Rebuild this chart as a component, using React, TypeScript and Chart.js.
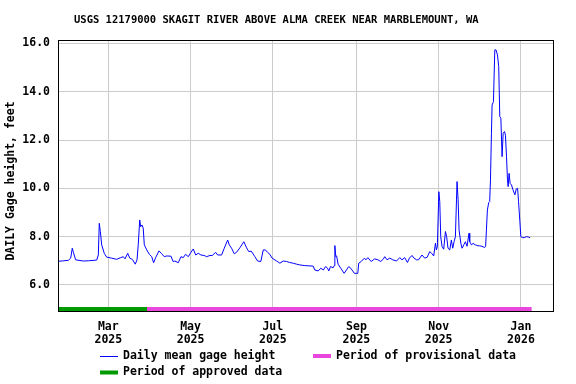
import React, { useEffect, useRef } from "react";
import { Chart, registerables } from "chart.js";

Chart.register(...registerables);

// Day numbers counted from Jan 1, 2025 (day 0)
const days = [
  22.0, 26, 29.4, 31.1, 32.3, 33.1, 34.8, 40.5, 44.2, 50.4, 51.6, 52.3, 53.1, 54.1, 56.0, 57.8,
  61.5, 65.2, 68.2, 70.1, 71.4, 73.4, 74.9, 76.8, 79.0, 80.3, 81.2, 82.3, 83.0, 84.0, 84.9, 85.7,
  87.5, 89.4, 91.2, 92.6, 94.1, 96.6, 98.6, 100.5, 102.3, 105.5, 107, 108.4, 110.9, 112.9, 114.6,
  116.3, 118.3, 120.3, 122.0, 123.8, 125.7, 127.7, 130.1, 131.9, 134.4, 136.1, 138.6, 140.1, 143.0,
  145.0, 147.5, 148.7, 150.4, 152.4, 154.1, 156.6, 159.5, 161.5, 163.2, 165, 167.7, 169.7, 172.1,
  173.9, 175.5, 177.1, 178.8, 180.5, 183.8, 186.2, 188.7, 191.2, 193.5, 196.1, 198.6, 201, 204.7,
  210.9, 212.1, 214.6, 216.6, 218.5, 220.1, 221.5, 222.5, 223.8, 225.7, 226.5, 227, 227.7, 228.3,
  229.4, 231.4, 233.9, 235.6, 237.3, 238.8, 241.5, 244, 244.7, 246.5, 248.9, 250, 251.5, 253.9,
  256.5, 258.9, 261, 262.8, 264, 265.7, 267.7, 270, 272.7, 275.1, 276.8, 278.8, 280.8, 282.3, 284.2,
  285.7, 287.5, 289, 291.6, 293.6, 295.5, 297.3, 298.8, 300.3, 301.6, 302.3, 303, 304.1, 304.8,
  305.5, 306.5, 307.7, 309, 309.9, 310.9, 312.2, 313.4, 314.4, 315.4, 316.4, 317.2, 317.6, 318.4,
  319.1, 320.4, 321.3, 322.6, 323.8, 325.0, 326.5, 327.0, 328.3, 329.5, 331.2, 333.1, 334.4, 336,
  338.1, 338.8, 339.4, 340.1, 341.1, 341.8, 342.4, 343.1, 343.6, 344.6, 345.6, 346.5, 347.6, 348.5,
  349.3, 350.1, 351.0, 351.8, 352.8, 353.5, 354.3, 355.0, 355.5, 356.2, 357, 358.0, 359, 360.5,
  361.5, 362.5, 363.2, 364.2, 364.9, 366.0, 367.5, 369.2, 370.5, 371.8,
];

const gage = [
  6.98, 7.0, 7.02, 7.11, 7.52, 7.35, 7.04, 6.99, 7.0, 7.03, 7.24, 8.55, 8.21, 7.66, 7.31, 7.15,
  7.11, 7.06, 7.13, 7.17, 7.08, 7.31, 7.11, 7.06, 6.86, 7.04, 7.66, 8.69, 8.41, 8.48, 8.35, 7.66,
  7.45, 7.27, 7.17, 6.92, 7.13, 7.41, 7.29, 7.17, 7.2, 7.19, 6.97, 6.99, 6.92, 7.17, 7.13,
  7.27, 7.17, 7.35, 7.49, 7.24, 7.31, 7.24, 7.22, 7.17, 7.22, 7.22, 7.35, 7.24, 7.24,
  7.52, 7.86, 7.66, 7.52, 7.29, 7.35, 7.54, 7.79, 7.54, 7.38, 7.4, 7.17, 6.99, 6.97,
  7.45, 7.45, 7.35, 7.27, 7.11, 6.99, 6.9, 6.99, 6.97, 6.93, 6.9, 6.86, 6.83, 6.8,
  6.78, 6.62, 6.58, 6.69, 6.62, 6.76, 6.7, 6.58, 6.76, 6.71, 6.8, 7.63, 7.17, 7.2,
  6.86, 6.69, 6.48, 6.62, 6.76, 6.69, 6.48, 6.48, 6.9, 6.97, 7.11, 7.04, 7.13, 6.97,
  7.08, 7.04, 6.97, 7.06, 7.17, 7.04, 7.11, 7.04, 6.99, 7.13, 7.04, 7.13, 6.93, 7.11, 7.22,
  7.11, 7.04, 7.04, 7.24, 7.11, 7.15, 7.38, 7.31, 7.2, 7.73, 7.45, 7.58, 9.86, 9.45,
  8.0, 7.59, 7.48, 8.21, 8.0, 7.52, 7.45, 7.86, 7.52, 7.79, 8.0, 9.52, 10.28, 9.52,
  8.28, 7.73, 7.52, 7.66, 7.79, 7.6, 8.14, 7.79, 7.66, 7.72, 7.66, 7.62, 7.62, 7.6,
  7.55, 7.6, 8.28, 9.1, 9.41, 9.45, 10.35, 12.28, 13.45, 13.59, 15.73, 15.73, 15.52, 15.04,
  12.97, 12.9, 11.31, 12.28, 12.35, 12.2, 11.31, 10.35, 10.07, 10.62, 10.2, 10.14, 9.95, 9.73,
  9.97, 10.0, 9.45, 8.62, 8.0, 7.96, 7.96, 8.0, 7.98, 7.96,
];

const approvedPeriod = [21.7, 87.7];
const provisionalPeriod = [87.7, 372.9];
const periodLevel = 5.0;

const xTickDays = [59, 120, 181, 243, 304, 365];
const xTickLabels = [
  ["Mar", "2025"],
  ["May", "2025"],
  ["Jul", "2025"],
  ["Sep", "2025"],
  ["Nov", "2025"],
  ["Jan", "2026"],
];
const yTicks = [6, 8, 10, 12, 14, 16];

const titleText = "USGS 12179000 SKAGIT RIVER ABOVE ALMA CREEK NEAR MARBLEMOUNT, WA";
const yTitle = "DAILY Gage height, feet";
const legendDaily = "Daily mean gage height";
const legendProvisional = "Period of provisional data";
const legendApproved = "Period of approved data";

const FONT = "'DejaVu Sans Mono', 'Liberation Mono', monospace";
const BLUE = "#0000ff";
const PINK = "#e846dc";
const GREEN = "#009900";

const decorPlugin = {
  id: "decor",
  afterDraw(chart: any) {
    const { ctx, chartArea: a } = chart;
    ctx.save();
    // frame
    ctx.strokeStyle = "#000";
    ctx.lineWidth = 1;
    ctx.strokeRect(
      Math.round(a.left) + 0.5,
      Math.round(a.top) + 0.5,
      Math.round(a.right - a.left) - 1,
      Math.round(a.bottom - a.top) - 1
    );
    // title
    ctx.fillStyle = "#000";
    ctx.font = `bold 10.5px ${FONT}`;
    ctx.textAlign = "left";
    ctx.textBaseline = "middle";
    ctx.fillText(titleText, 74, 20);
    // y axis title
    ctx.save();
    ctx.font = `bold 11.5px ${FONT}`;
    ctx.translate(11.5, 181);
    ctx.rotate(-Math.PI / 2);
    ctx.textAlign = "center";
    ctx.fillText(yTitle, 0, 0);
    ctx.restore();
    // legend
    ctx.font = `bold 11.5px ${FONT}`;
    ctx.lineCap = "butt";
    ctx.strokeStyle = BLUE;
    ctx.lineWidth = 1;
    ctx.beginPath();
    ctx.moveTo(100, 356.5);
    ctx.lineTo(118, 356.5);
    ctx.stroke();
    ctx.fillText(legendDaily, 123, 356);
    ctx.strokeStyle = PINK;
    ctx.lineWidth = 4;
    ctx.beginPath();
    ctx.moveTo(313, 356);
    ctx.lineTo(331, 356);
    ctx.stroke();
    ctx.fillText(legendProvisional, 336, 356);
    ctx.strokeStyle = GREEN;
    ctx.beginPath();
    ctx.moveTo(100, 372.5);
    ctx.lineTo(118, 372.5);
    ctx.stroke();
    ctx.fillText(legendApproved, 123, 372);
    ctx.restore();
  },
};

export default function App() {
  const ref = useRef<HTMLCanvasElement | null>(null);

  useEffect(() => {
    if (!ref.current) return;
    const chart = new Chart(ref.current, {
      type: "line",
      data: {
        datasets: [
          {
            label: legendApproved,
            data: approvedPeriod.map((d) => ({ x: d, y: periodLevel })),
            borderColor: GREEN,
            borderWidth: 4,
            borderCapStyle: "butt",
            pointRadius: 0,
          },
          {
            label: legendProvisional,
            data: provisionalPeriod.map((d) => ({ x: d, y: periodLevel })),
            borderColor: PINK,
            borderWidth: 4,
            borderCapStyle: "butt",
            pointRadius: 0,
          },
          {
            label: legendDaily,
            data: days.map((d, i) => ({ x: d, y: gage[i] })),
            borderColor: BLUE,
            borderWidth: 1,
            pointRadius: 0,
            tension: 0,
          },
        ],
      },
      options: {
        animation: false,
        responsive: false,
        devicePixelRatio: 1,
        layout: { padding: { left: 0, right: 22, top: 40, bottom: 32 } },
        plugins: {
          legend: { display: false },
          title: { display: false },
          tooltip: { enabled: false },
        },
        scales: {
          x: {
            type: "linear",
            min: 21.7,
            max: 389.5,
            border: { display: false },
            grid: { color: "#cccccc", drawTicks: false, lineWidth: 1 },
            afterBuildTicks: (s: any) => {
              s.ticks = xTickDays.map((v) => ({ value: v }));
            },
            afterFit: (s: any) => {
              s.height = 40;
            },
            ticks: {
              autoSkip: false,
              maxRotation: 0,
              padding: 9,
              color: "#000",
              font: { family: FONT, size: 11.5, weight: "bold", lineHeight: 1.13 },
              callback: (_v: any, i: number) => xTickLabels[i],
            },
          },
          y: {
            type: "linear",
            min: 4.88,
            max: 16.14,
            border: { display: false },
            grid: { color: "#cccccc", drawTicks: false, lineWidth: 1 },
            afterBuildTicks: (s: any) => {
              s.ticks = yTicks.map((v) => ({ value: v }));
            },
            afterFit: (s: any) => {
              s.width = 58;
            },
            ticks: {
              padding: 8,
              color: "#000",
              font: { family: FONT, size: 11.5, weight: "bold" },
              callback: (v: any) => Number(v).toFixed(1),
            },
          },
        },
      },
      plugins: [decorPlugin],
    } as any);
    return () => chart.destroy();
  }, []);

  return (
    <div style={{ position: "absolute", left: 0, top: 0, width: 576, height: 384, background: "#fff" }}>
      <canvas ref={ref} width={576} height={384} />
    </div>
  );
}
